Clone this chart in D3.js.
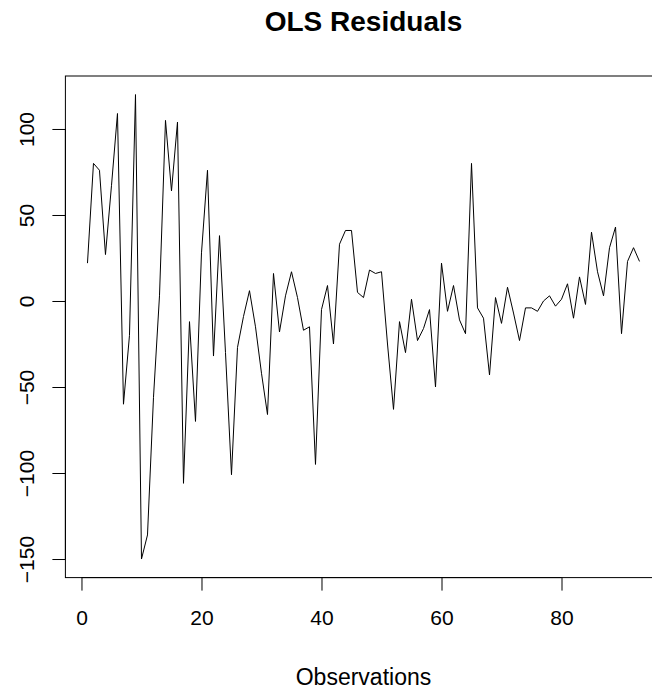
<!DOCTYPE html>
<html>
<head>
<meta charset="utf-8">
<script src="https://cdn.jsdelivr.net/npm/d3@7"></script>
<style>
  html, body { margin: 0; padding: 0; background: #fff; }
  svg { display: block; font-family: "Liberation Sans", Arial, sans-serif; }
</style>
</head>
<body>
<svg id="chart" width="652" height="691"></svg>
<script>
const residuals = [
  22, 80, 76, 27, 67, 109, -60, -20, 120, -150,
  -136, -56, 3, 105, 64, 104, -106, -12, -70, 28,
  76, -32, 38, -30, -101, -27, -9, 6, -15, -42,
  -66, 16, -18, 3, 17, 2, -17, -15, -95, -5,
  9, -25, 33, 41, 41, 5, 2, 18, 16, 17,
  -25, -63, -12, -30, 1, -23, -16, -5, -50, 22,
  -6, 9, -11, -19, 80, -4, -10, -43, 2, -13,
  8, -7, -23, -4, -4, -6, 0, 3, -3, 1,
  10, -10, 14, -2, 40, 17, 3, 31, 43, -19,
  23, 31, 23
];
const xTicks = [0, 20, 40, 60, 80];
const yTicks = [-150, -100, -50, 0, 50, 100];
const titleText = "OLS Residuals";
const xLabel = "Observations";

const svg = d3.select("#chart");
const plot = { left: 65.4, right: 661.6, top: 76, bottom: 577.6 };

// R-style 4% axis extension
function ext(lo, hi) { const d = (hi - lo) * 0.04; return [lo - d, hi + d]; }
const xExt = ext(1, residuals.length);
const yExt = ext(d3.min(residuals), d3.max(residuals));

const x = d3.scaleLinear().domain(xExt).range([plot.left, plot.right]);
const y = d3.scaleLinear().domain(yExt).range([plot.bottom, plot.top]);

// line
const line = d3.line().x((d, i) => x(i + 1)).y(d => y(d));
svg.append("path")
  .datum(residuals)
  .attr("d", line)
  .attr("fill", "none")
  .attr("stroke", "#000")
  .attr("stroke-width", 1);

// box
svg.append("rect")
  .attr("x", plot.left).attr("y", plot.top)
  .attr("width", plot.right - plot.left).attr("height", plot.bottom - plot.top)
  .attr("fill", "none").attr("stroke", "#000").attr("stroke-width", 1);

// x axis
const xAxis = svg.append("g")
  .attr("transform", `translate(0,${plot.bottom})`)
  .call(d3.axisBottom(x).tickValues(xTicks).tickSize(13).tickPadding(19).tickFormat(d3.format("d")));
xAxis.select(".domain").attr("d", `M${x(xTicks[0])},0H${x(xTicks[xTicks.length-1])}`).attr("stroke", "#000");
xAxis.selectAll(".tick line").attr("stroke", "#000");
xAxis.selectAll(".tick text").attr("font-size", 21).attr("fill", "#000")
  .attr("font-family", "'Liberation Sans', Arial, sans-serif");

// y axis
const yAxis = svg.append("g")
  .attr("transform", `translate(${plot.left},0)`)
  .call(d3.axisLeft(y).tickValues(yTicks).tickSize(13).tickFormat(d3.format("d")));
yAxis.select(".domain").attr("d", `M0,${y(yTicks[0])}V${y(yTicks[yTicks.length-1])}`).attr("stroke", "#000");
yAxis.selectAll(".tick line").attr("stroke", "#000");
yAxis.selectAll(".tick text")
  .attr("font-size", 21).attr("fill", "#000")
  .attr("font-family", "'Liberation Sans', Arial, sans-serif")
  .attr("x", null).attr("dy", null)
  .attr("text-anchor", "middle")
  .attr("transform", "translate(-31,0) rotate(-90)");

// title
svg.append("text")
  .attr("x", (plot.left + plot.right) / 2)
  .attr("y", 31)
  .attr("text-anchor", "middle")
  .attr("font-size", 28)
  .attr("font-weight", "bold")
  .attr("fill", "#000")
  .text(titleText);

// x label
svg.append("text")
  .attr("x", (plot.left + plot.right) / 2)
  .attr("y", 685)
  .attr("text-anchor", "middle")
  .attr("font-size", 23)
  .attr("fill", "#000")
  .text(xLabel);
</script>
</body>
</html>
